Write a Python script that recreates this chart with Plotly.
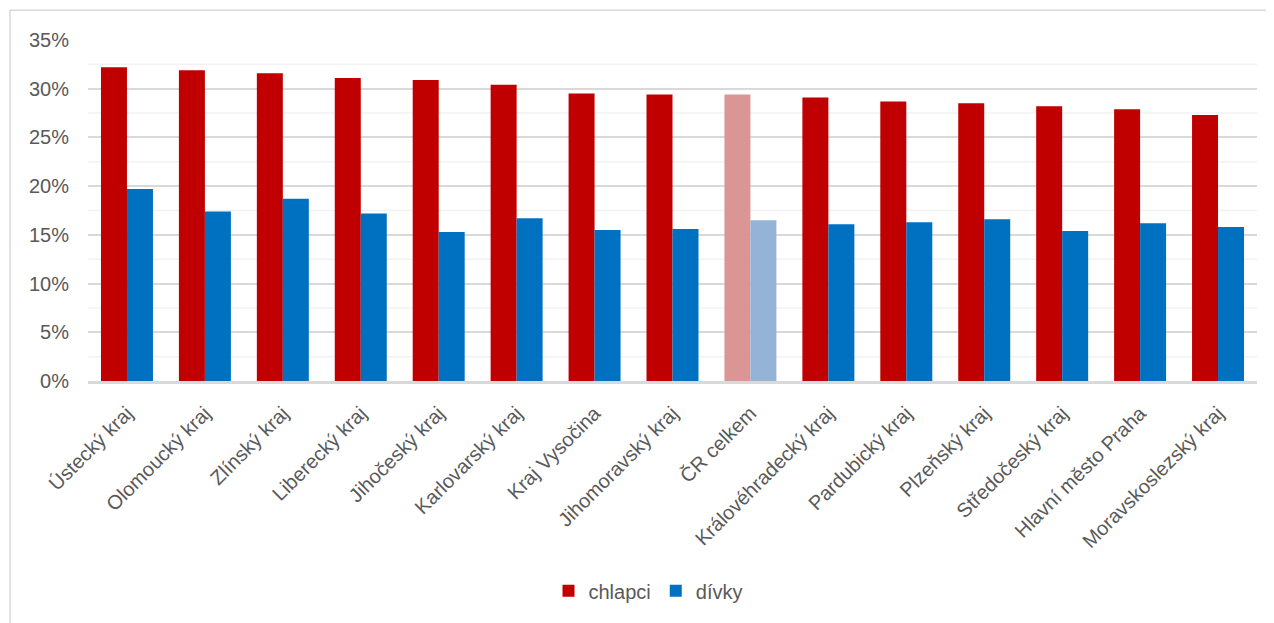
import plotly.graph_objects as go

categories = ["Ústecký kraj", "Olomoucký kraj", "Zlínský kraj", "Liberecký kraj", "Jihočeský kraj",
              "Karlovarský kraj", "Kraj Vysočina", "Jihomoravský kraj", "ČR celkem", "Královéhradecký kraj",
              "Pardubický kraj", "Plzeňský kraj", "Středočeský kraj", "Hlavní město Praha", "Moravskoslezský kraj"]
chlapci = [32.2, 31.9, 31.6, 31.1, 30.9, 30.4, 29.5, 29.4, 29.4, 29.1, 28.7, 28.5, 28.2, 27.9, 27.3]
divky = [19.7, 17.4, 18.7, 17.2, 15.3, 16.7, 15.5, 15.6, 16.5, 16.1, 16.3, 16.6, 15.4, 16.2, 15.8]

highlight = "ČR celkem"
col_ch = ["#DA9694" if c == highlight else "#C00000" for c in categories]
col_dv = ["#95B3D7" if c == highlight else "#0070C0" for c in categories]

fig = go.Figure()
fig.add_bar(x=categories, y=chlapci, name="chlapci", showlegend=False,
            marker=dict(color=col_ch, line=dict(width=0)))
fig.add_bar(x=categories, y=divky, name="dívky", showlegend=False,
            marker=dict(color=col_dv, line=dict(width=0)))
fig.add_scatter(x=[None], y=[None], mode="markers", name="chlapci",
                marker=dict(symbol="square", size=12, color="#C00000"))
fig.add_scatter(x=[None], y=[None], mode="markers", name="dívky",
                marker=dict(symbol="square", size=12, color="#0070C0"))

# page has 8px body offset
W, H = 1266, 615
L, T = 80, 32
plot_bottom = 375
plot_right = 1249
R = W - plot_right
B = H - plot_bottom
ph = H - T - B
pw = W - L - R

shapes = []
for v in [2.5, 7.5, 12.5, 17.5, 22.5, 27.5, 32.5]:
    shapes.append(dict(type="line", xref="paper", yref="y", x0=0, x1=1, y0=v, y1=v,
                       line=dict(color="#F2F2F2", width=1.5), layer="below"))
shapes.append(dict(type="rect", xref="paper", yref="paper",
                   x0=(2 - L) / pw, x1=(1290 - L) / pw,
                   y0=-(B + 30) / ph, y1=1 + 30 / ph,
                   line=dict(color="#D9D9D9", width=1.5), fillcolor="rgba(0,0,0,0)"))

fig.update_layout(
    width=W, height=H,
    margin=dict(l=L, r=R, t=T, b=B),
    paper_bgcolor="white", plot_bgcolor="white",
    barmode="group", bargap=0.333, bargroupgap=0,
    font=dict(family="Liberation Sans, Arial, sans-serif", color="#595959", size=20),
    showlegend=True,
    legend=dict(orientation="h", x=(640 - L) / pw, xanchor="center",
                y=-(586 - plot_bottom) / ph, yanchor="middle",
                font=dict(size=20, color="#595959")),
    shapes=shapes,
    xaxis=dict(tickangle=-45, tickfont=dict(size=20, color="#595959"), showline=True,
               linecolor="#D9D9D9", linewidth=2.5, ticks="", showgrid=False,
               ticklabelstandoff=10),
    yaxis=dict(range=[0, 35], dtick=5, ticksuffix="%", showgrid=True, gridcolor="#D9D9D9",
               gridwidth=1.5, zeroline=False, tickfont=dict(size=20, color="#595959"),
               ticks="", ticklabelstandoff=18),
)
fig.write_html("out.html")
